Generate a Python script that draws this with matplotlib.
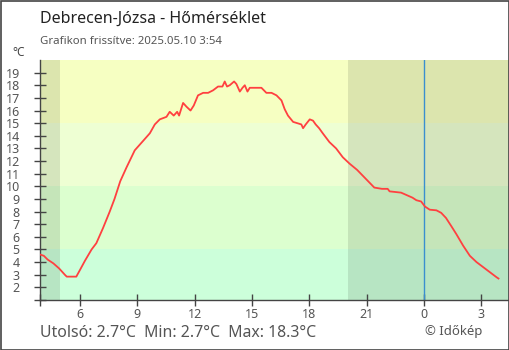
import matplotlib
matplotlib.use("Agg")
import matplotlib.pyplot as plt
from matplotlib.patches import Rectangle

# ---- data ----
hours = [3.9, 4.1, 4.3, 4.6, 4.9, 5.2, 5.3, 5.8, 6.0, 6.25, 6.6, 6.85, 7.2, 7.55, 7.8,
         8.1, 8.43, 8.86, 9.30, 9.65, 9.91, 10.17, 10.52, 10.69, 10.9, 11.08, 11.18,
         11.39, 11.57, 11.78, 11.95, 12.17, 12.44, 12.70, 12.96, 13.22, 13.45, 13.57,
         13.69, 13.83, 14.06, 14.18, 14.36, 14.50, 14.62, 14.76, 14.88, 15.49, 15.75,
         16.02, 16.28, 16.54, 16.71, 16.88, 17.15, 17.58, 17.67, 17.81, 18.02, 18.19,
         18.33, 18.51, 18.7, 19.05, 19.4, 19.75, 20.1, 20.5, 20.95, 21.4, 21.8, 22.1,
         22.2, 22.8, 23.1, 23.4, 23.6, 23.85, 24.05, 24.3, 24.65, 24.9, 25.15, 25.45,
         25.7, 26.05, 26.4, 26.75, 27.1, 27.45, 27.8, 27.9]
temps = [4.6, 4.5, 4.2, 3.9, 3.5, 3.0, 2.85, 2.85, 3.4, 4.1, 5.0, 5.5, 6.7, 8.0, 9.0,
         10.4, 11.5, 12.85, 13.6, 14.2, 14.9, 15.3, 15.5, 15.9, 15.6, 15.9, 15.6,
         16.6, 16.3, 16.0, 16.4, 17.2, 17.4, 17.4, 17.6, 17.9, 17.9, 18.3,
         17.9, 18.0, 18.3, 18.1, 17.5, 17.8, 18.0, 17.5, 17.8, 17.8, 17.4,
         17.4, 17.2, 16.8, 16.1, 15.6, 15.1, 14.9, 14.6, 14.9, 15.3, 15.2,
         14.9, 14.6, 14.2, 13.5, 13.0, 12.3, 11.8, 11.3, 10.6, 9.9, 9.8, 9.8,
         9.6, 9.5, 9.3, 9.1, 8.9, 8.8, 8.4, 8.15, 8.1, 7.9, 7.5, 6.8,
         6.2, 5.3, 4.5, 4.0, 3.6, 3.2, 2.8, 2.7]

x_ticks = [6, 9, 12, 15, 18, 21, 24, 27]
x_labels = ["6", "9", "12", "15", "18", "21", "0", "3"]
y_ticks = list(range(1, 20))
y_labels = [""] + [str(v) for v in range(2, 20)]

band_edges = [1, 5, 10, 15, 20]
band_colors = ["#ccffda", "#dcffcf", "#eeffd3", "#f6ffc2"]
night_spans = [(3.9, 4.95), (20.0, 28.45)]

title = "Debrecen-Józsa - Hőmérséklet"
subtitle = "Grafikon frissítve: 2025.05.10 3:54"
footer = "Utolsó: 2.7°C  Min: 2.7°C  Max: 18.3°C"
credit = "© Időkép"

plt.rcParams['font.family'] = ['Noto Sans', 'DejaVu Sans']

fig = plt.figure(figsize=(5.1, 3.5), dpi=100)
ax = fig.add_axes([40/510, 1-300/350, 469/510, 240/350])
xmin, xmax = 3.9, 28.45
ax.set_xlim(xmin, xmax)
ax.set_ylim(1, 20)

for lo, hi, c in zip(band_edges[:-1], band_edges[1:], band_colors):
    ax.axhspan(lo, hi, color=c, lw=0, zorder=0)
for a, b in night_spans:
    ax.axvspan(a, b, color="black", alpha=0.1, lw=0, zorder=1)

ax.axvline(24, color="#3a8fcf", lw=1, zorder=2)
ax.plot(hours, temps, color="#ff4040", lw=1.3, zorder=3)

ax.set_xticks([xmin] + x_ticks)
ax.set_xticklabels([""] + x_labels)
ax.set_yticks(y_ticks)
ax.set_yticklabels(y_labels)
ax.tick_params(direction="inout", length=9, width=1, color="#444444",
               labelcolor="#555555", labelsize=9)
ax.tick_params(axis="x", pad=1)
ax.tick_params(axis="y", pad=10)
ax.get_xticklines()[2*7].set_color("#3a8fcf")

for s in ["top", "right"]:
    ax.spines[s].set_visible(False)
for s in ["left", "bottom"]:
    ax.spines[s].set_color("#444444")
    ax.spines[s].set_linewidth(1)

fig.text(40/510, 1-19/350, title, fontsize=11.5, color="#222222", va="center", ha="left")
fig.text(40/510, 1-41/350, subtitle, fontsize=8.2, color="#555555", va="center", ha="left")
fig.text(19/510, 1-52/350, "°C", fontsize=8.5, color="#444444", va="center", ha="center")
fig.text(40/510, 1-333/350, footer, fontsize=11.4, color="#555555", va="center", ha="left")
fig.text(454/510, 1-332/350, credit, fontsize=9.5, color="#555555", va="center", ha="center")

fig.patches.append(Rectangle((0.5/510, 0.5/350), 509/510, 349/350, transform=fig.transFigure,
                             fill=False, edgecolor="#444444", lw=1.2))

fig.savefig("out.png", dpi=100)
